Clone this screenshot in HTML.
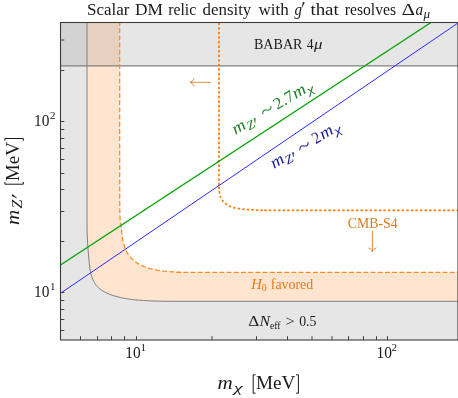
<!DOCTYPE html>
<html><head><meta charset="utf-8"><style>
html,body{margin:0;padding:0;background:#fff;}
svg{display:block;will-change:transform}
text{font-family:"Liberation Serif",serif;}
.i{font-style:italic}
</style></head><body>
<svg width="458" height="398" viewBox="0 0 458 398">
<rect width="458" height="398" fill="#fff"/>
<!-- fills -->
<path d="M60.50 22.50 L87.00 22.50 L87.01 221.63 L87.04 226.88 L87.16 233.99 L87.28 237.10 L88.06 249.31 L88.58 255.94 L88.94 259.99 L89.97 268.91 L90.38 271.40 L90.91 273.75 L91.73 276.50 L92.71 279.12 L93.86 281.69 L94.92 283.62 L95.80 284.92 L97.11 286.46 L98.55 287.83 L100.49 289.41 L102.15 290.54 L104.41 291.84 L106.95 293.12 L109.73 294.33 L112.11 295.21 L114.66 296.00 L117.98 296.88 L121.27 297.66 L124.57 298.33 L127.84 298.90 L130.87 299.34 L133.48 299.65 L138.61 300.13 L143.66 300.51 L147.53 300.75 L151.99 300.94 L162.56 301.23 L170.26 301.31 L458.00 301.30 L458.00 340.00 L60.50 340.00Z" fill="#808080" fill-opacity="0.2"/>
<path d="M87.00 22.50 L87.01 221.63 L87.04 226.88 L87.16 233.99 L87.28 237.10 L88.06 249.31 L88.58 255.94 L88.94 259.99 L89.97 268.91 L90.38 271.40 L90.91 273.75 L91.73 276.50 L92.71 279.12 L93.86 281.69 L94.92 283.62 L95.80 284.92 L97.11 286.46 L98.55 287.83 L100.49 289.41 L102.15 290.54 L104.41 291.84 L106.95 293.12 L109.73 294.33 L112.11 295.21 L114.66 296.00 L117.98 296.88 L121.27 297.66 L124.57 298.33 L127.84 298.90 L130.87 299.34 L133.48 299.65 L138.61 300.13 L143.66 300.51 L147.53 300.75 L151.99 300.94 L162.56 301.23 L170.26 301.31 L458.00 301.30 L458.00 272.40 L175.18 272.40 L182.53 272.33 L178.47 272.17 L175.35 271.99 L167.15 271.39 L163.63 271.05 L160.44 270.62 L157.12 270.08 L152.86 269.24 L150.15 268.62 L148.00 268.00 L146.34 267.43 L144.67 266.79 L142.51 265.87 L140.54 264.93 L138.73 263.99 L137.03 262.96 L135.79 262.10 L134.17 260.80 L132.28 259.07 L130.67 257.43 L129.30 255.85 L128.06 254.14 L126.89 252.24 L125.88 250.29 L125.25 248.78 L124.77 247.31 L123.54 242.96 L123.03 240.95 L122.60 238.88 L122.20 236.28 L121.80 232.90 L121.10 225.00 L120.93 223.97 L120.42 222.19 L120.23 220.78 L120.14 219.73 L120.00 216.70 L119.80 209.54 L119.72 193.44 L119.68 145.43 L119.70 22.50Z" fill="#ff7f0e" fill-opacity="0.2"/>
<rect x="60.5" y="22.5" width="397.5" height="43.3" fill="#808080" fill-opacity="0.2"/>
<!-- lines -->
<g stroke="#333" stroke-width="0.9"><line x1="80.50" y1="340.0" x2="80.50" y2="336.2"/><line x1="97.50" y1="340.0" x2="97.50" y2="336.2"/><line x1="111.50" y1="340.0" x2="111.50" y2="336.2"/><line x1="124.50" y1="340.0" x2="124.50" y2="336.2"/><line x1="136.50" y1="340.0" x2="136.50" y2="336.2"/><line x1="212.00" y1="340.0" x2="212.00" y2="336.2"/><line x1="256.50" y1="340.0" x2="256.50" y2="336.2"/><line x1="287.50" y1="340.0" x2="287.50" y2="336.2"/><line x1="312.00" y1="340.0" x2="312.00" y2="336.2"/><line x1="332.00" y1="340.0" x2="332.00" y2="336.2"/><line x1="348.50" y1="340.0" x2="348.50" y2="336.2"/><line x1="363.50" y1="340.0" x2="363.50" y2="336.2"/><line x1="376.50" y1="340.0" x2="376.50" y2="336.2"/><line x1="387.50" y1="340.0" x2="387.50" y2="336.2"/><line x1="60.5" y1="330.50" x2="64.3" y2="330.50"/><line x1="60.5" y1="319.50" x2="64.3" y2="319.50"/><line x1="60.5" y1="309.50" x2="64.3" y2="309.50"/><line x1="60.5" y1="300.50" x2="64.3" y2="300.50"/><line x1="60.5" y1="292.50" x2="64.3" y2="292.50"/><line x1="60.5" y1="241.50" x2="64.3" y2="241.50"/><line x1="60.5" y1="211.50" x2="64.3" y2="211.50"/><line x1="60.5" y1="189.50" x2="64.3" y2="189.50"/><line x1="60.5" y1="173.50" x2="64.3" y2="173.50"/><line x1="60.5" y1="159.50" x2="64.3" y2="159.50"/><line x1="60.5" y1="148.50" x2="64.3" y2="148.50"/><line x1="60.5" y1="138.50" x2="64.3" y2="138.50"/><line x1="60.5" y1="129.50" x2="64.3" y2="129.50"/><line x1="60.5" y1="121.50" x2="64.3" y2="121.50"/><line x1="60.5" y1="70.50" x2="64.3" y2="70.50"/><line x1="60.5" y1="40.00" x2="64.3" y2="40.00"/></g>
<line x1="60.5" y1="65.85" x2="458.0" y2="65.85" stroke="#808080" stroke-width="1.05"/>
<path d="M87.00 22.50 L87.01 221.63 L87.04 226.88 L87.16 233.99 L87.28 237.10 L88.06 249.31 L88.58 255.94 L88.94 259.99 L89.97 268.91 L90.38 271.40 L90.91 273.75 L91.73 276.50 L92.71 279.12 L93.86 281.69 L94.92 283.62 L95.80 284.92 L97.11 286.46 L98.55 287.83 L100.49 289.41 L102.15 290.54 L104.41 291.84 L106.95 293.12 L109.73 294.33 L112.11 295.21 L114.66 296.00 L117.98 296.88 L121.27 297.66 L124.57 298.33 L127.84 298.90 L130.87 299.34 L133.48 299.65 L138.61 300.13 L143.66 300.51 L147.53 300.75 L151.99 300.94 L162.56 301.23 L170.26 301.31 L458.00 301.30" fill="none" stroke="#808080" stroke-width="1.0"/>
<path d="M119.70 22.50 L119.68 145.43 L119.72 193.44 L119.80 209.54 L120.00 216.70 L120.14 219.73 L120.23 220.78 L120.42 222.19 L120.93 223.97 L121.10 225.00 L121.80 232.90 L122.20 236.28 L122.60 238.88 L123.03 240.95 L123.54 242.96 L124.77 247.31 L125.25 248.78 L125.88 250.29 L126.89 252.24 L128.06 254.14 L129.30 255.85 L130.67 257.43 L132.28 259.07 L134.17 260.80 L135.79 262.10 L137.03 262.96 L138.73 263.99 L140.54 264.93 L142.51 265.87 L144.67 266.79 L146.34 267.43 L148.00 268.00 L150.15 268.62 L152.86 269.24 L157.12 270.08 L160.44 270.62 L163.63 271.05 L167.15 271.39 L175.35 271.99 L178.47 272.17 L182.53 272.33 L175.18 272.40 L458.00 272.40" fill="none" stroke="#ff8a1c" stroke-width="1.25" stroke-dasharray="4.9 2.3" stroke-dashoffset="1.5"/>
<path d="M219.00 22.50 L218.99 185.36 L218.99 182.66 L219.10 187.90 L219.26 190.58 L219.42 192.49 L219.70 194.20 L219.95 195.18 L220.24 196.11 L220.59 197.00 L221.15 198.21 L221.84 199.45 L222.42 200.36 L223.07 201.23 L223.78 202.02 L224.54 202.74 L225.37 203.43 L226.60 204.30 L228.04 205.17 L229.62 205.99 L231.20 206.70 L232.35 207.13 L233.88 207.61 L235.80 208.10 L237.26 208.41 L239.12 208.72 L241.86 209.09 L246.30 209.55 L250.06 209.79 L257.88 210.14 L263.89 210.32 L261.19 210.38 L458.00 210.40" fill="none" stroke="#ff7f0e" stroke-width="1.75" stroke-dasharray="2.5 2.08" stroke-dashoffset="-0.05"/>
<line x1="60.5" y1="293.3" x2="458.0" y2="23.0" stroke="#2a2aff" stroke-width="1.0"/>
<line x1="60.5" y1="265.0" x2="431.0" y2="22.5" stroke="#05a305" stroke-width="1.45"/>
<!-- frame -->
<rect x="60.5" y="22.5" width="397.5" height="317.5" fill="none" stroke="#3c3c3c" stroke-width="1.1"/>
<text x="87.0" y="14.8" font-size="16.6" textLength="42.4" lengthAdjust="spacingAndGlyphs" fill="#1a1a1a">Scalar</text>
<text x="135.0" y="14.8" font-size="16.6" textLength="28.0" lengthAdjust="spacingAndGlyphs" fill="#1a1a1a">DM</text>
<text x="168.2" y="14.8" font-size="16.6" textLength="28.0" lengthAdjust="spacingAndGlyphs" fill="#1a1a1a">relic</text>
<text x="202.5" y="14.8" font-size="16.6" textLength="48.8" lengthAdjust="spacingAndGlyphs" fill="#1a1a1a">density</text>
<text x="258.5" y="14.8" font-size="16.6" textLength="30.4" lengthAdjust="spacingAndGlyphs" fill="#1a1a1a">with</text>
<text x="294.6" y="14.8" font-size="16.6" class="i" textLength="7.4" lengthAdjust="spacingAndGlyphs" fill="#1a1a1a">g</text>
<path d="M302.00 7.60 L303.01 2.00 L304.51 2.60 Z" fill="#1a1a1a" stroke="#1a1a1a" stroke-width="0.3"/>
<text x="310.4" y="14.8" font-size="16.6" textLength="28.4" lengthAdjust="spacingAndGlyphs" fill="#1a1a1a">that</text>
<text x="344.8" y="14.8" font-size="16.6" textLength="51.3" lengthAdjust="spacingAndGlyphs" fill="#1a1a1a">resolves</text>
<text x="401.8" y="14.8" font-size="16.6" textLength="13.2" lengthAdjust="spacingAndGlyphs" fill="#1a1a1a">Δ</text>
<text x="415.6" y="14.8" font-size="16.6" class="i" textLength="7.6" lengthAdjust="spacingAndGlyphs" fill="#1a1a1a">a</text>
<text x="423.6" y="18.0" font-size="11.5" class="i" textLength="6.6" lengthAdjust="spacingAndGlyphs" fill="#1a1a1a">μ</text>
<text x="125.3" y="358.1" font-size="16.4" textLength="15.4" lengthAdjust="spacingAndGlyphs" fill="#1a1a1a">10</text>
<text x="140.6" y="351.4" font-size="11" fill="#1a1a1a">1</text>
<text x="376.5" y="358.1" font-size="16.4" textLength="15.4" lengthAdjust="spacingAndGlyphs" fill="#1a1a1a">10</text>
<text x="391.6" y="351.4" font-size="11" fill="#1a1a1a">2</text>
<text x="34.1" y="125.9" font-size="16.4" textLength="15.4" lengthAdjust="spacingAndGlyphs" fill="#1a1a1a">10</text>
<text x="49.9" y="119.0" font-size="11" fill="#1a1a1a">2</text>
<text x="34.1" y="297.0" font-size="16.4" textLength="15.4" lengthAdjust="spacingAndGlyphs" fill="#1a1a1a">10</text>
<text x="49.9" y="290.1" font-size="11" fill="#1a1a1a">1</text>
<text x="217.6" y="388.8" font-size="19" class="i" textLength="15.2" lengthAdjust="spacingAndGlyphs" fill="#1a1a1a">m</text>
<text x="233.8" y="391.6" font-size="13" class="i" textLength="9.0" lengthAdjust="spacingAndGlyphs" fill="#1a1a1a">χ</text>
<path d="M255.50 374.80 H253.20 V393.20 H255.50 M296.10 374.80 H298.40 V393.20 H296.10" fill="none" stroke="#1a1a1a" stroke-width="1.0"/>
<text x="256.0" y="388.9" font-size="19" textLength="39.4" lengthAdjust="spacingAndGlyphs" fill="#1a1a1a">MeV</text>
<g transform="translate(18.9,225.3) rotate(-90)">
<text x="0.4" y="0.0" font-size="19" class="i" textLength="15.2" lengthAdjust="spacingAndGlyphs" fill="#1a1a1a">m</text>
<text x="16.9" y="2.9" font-size="14.2" class="i" textLength="8.8" lengthAdjust="spacingAndGlyphs" fill="#1a1a1a">Z</text>
<path d="M27.30 -2.00 L29.40 -7.00 L31.10 -6.40 Z" fill="#1a1a1a" stroke="#1a1a1a" stroke-width="0.3"/>
<path d="M43.40 -14.00 H41.10 V4.40 H43.40 M84.50 -14.00 H86.80 V4.40 H84.50" fill="none" stroke="#1a1a1a" stroke-width="1.0"/>
<text x="44.1" y="0.0" font-size="19" textLength="39.4" lengthAdjust="spacingAndGlyphs" fill="#1a1a1a">MeV</text>
</g>
<text x="254.0" y="49.2" font-size="13.6" textLength="48.4" lengthAdjust="spacingAndGlyphs" fill="#1a1a1a">BABAR</text>
<text x="306.8" y="49.2" font-size="13.6" textLength="6.8" lengthAdjust="spacingAndGlyphs" fill="#1a1a1a">4</text>
<text x="313.9" y="49.2" font-size="13.6" class="i" textLength="8.4" lengthAdjust="spacingAndGlyphs" fill="#1a1a1a">μ</text>
<text x="248.3" y="325.7" font-size="13.6" textLength="11.0" lengthAdjust="spacingAndGlyphs" fill="#1a1a1a">Δ</text>
<text x="259.6" y="325.7" font-size="13.6" class="i" textLength="10.6" lengthAdjust="spacingAndGlyphs" fill="#1a1a1a">N</text>
<text x="269.9" y="328.6" font-size="9.8" textLength="10.6" lengthAdjust="spacingAndGlyphs" fill="#1a1a1a">eff</text>
<text x="285.5" y="325.9" font-size="13.6" textLength="9.2" lengthAdjust="spacingAndGlyphs" fill="#1a1a1a">&gt;</text>
<text x="299.2" y="325.7" font-size="13.6" textLength="17.2" lengthAdjust="spacingAndGlyphs" fill="#1a1a1a">0.5</text>
<text x="251.2" y="288.6" font-size="13.6" class="i" textLength="10.6" lengthAdjust="spacingAndGlyphs" fill="#dd7a1c">H</text>
<text x="261.7" y="291.4" font-size="9.8" textLength="5.0" lengthAdjust="spacingAndGlyphs" fill="#dd7a1c">0</text>
<text x="270.8" y="288.6" font-size="13.6" textLength="42.4" lengthAdjust="spacingAndGlyphs" fill="#dd7a1c">favored</text>
<text x="347.8" y="228.2" font-size="14.0" textLength="49.8" lengthAdjust="spacingAndGlyphs" fill="#dd7a1c">CMB-S4</text>
<g fill="none" stroke="#dd7a1c" stroke-width="0.85" stroke-linecap="round"><path d="M372.4 231.3 V251.2 M368.8 248.0 Q371.6 249.0 372.4 251.5 Q373.2 249.0 376.0 248.0"/><path d="M210.5 82.3 H190.5 M194.0 78.7 Q192.8 81.5 190.2 82.3 Q192.8 83.1 194.0 85.9"/></g>
<g transform="translate(235.6,134.7) rotate(-30.6)">
<text x="0.0" y="0.0" font-size="16.6" class="i" textLength="13.4" lengthAdjust="spacingAndGlyphs" fill="#1e8226">m</text>
<text x="13.8" y="3.4" font-size="12.4" class="i" textLength="8.0" lengthAdjust="spacingAndGlyphs" fill="#1e8226">Z</text>
<path d="M22.80 -0.20 L23.90 -4.60 L25.40 -4.00 Z" fill="#1e8226" stroke="#1e8226" stroke-width="0.3"/>
<path transform="translate(0,0)" d="M33.9 -4.0 C35.5 -7.2 37.7 -6.9 39.4 -5.3 C41.1 -3.7 43.3 -3.3 44.9 -6.4" fill="none" stroke="#1e8226" stroke-width="1.0" stroke-linecap="round"/>
<text x="48.4" y="0.0" font-size="16.6" textLength="21.4" lengthAdjust="spacingAndGlyphs" fill="#1e8226">2.7</text>
<text x="70.0" y="0.0" font-size="16.6" class="i" textLength="13.4" lengthAdjust="spacingAndGlyphs" fill="#1e8226">m</text>
<text x="83.6" y="2.8" font-size="11.6" class="i" textLength="7.6" lengthAdjust="spacingAndGlyphs" fill="#1e8226">χ</text>
</g>
<g transform="translate(274.0,168.8) rotate(-30.6)">
<text x="0.0" y="0.0" font-size="16.6" class="i" textLength="13.4" lengthAdjust="spacingAndGlyphs" fill="#1a1a98">m</text>
<text x="13.8" y="3.4" font-size="12.4" class="i" textLength="8.0" lengthAdjust="spacingAndGlyphs" fill="#1a1a98">Z</text>
<path d="M22.80 -0.20 L23.90 -4.60 L25.40 -4.00 Z" fill="#1a1a98" stroke="#1a1a98" stroke-width="0.3"/>
<path transform="translate(-2.0,0.9)" d="M33.9 -4.0 C35.5 -7.2 37.7 -6.9 39.4 -5.3 C41.1 -3.7 43.3 -3.3 44.9 -6.4" fill="none" stroke="#1a1a98" stroke-width="1.0" stroke-linecap="round"/>
<text x="48.4" y="0.0" font-size="16.6" textLength="7.6" lengthAdjust="spacingAndGlyphs" fill="#1a1a98">2</text>
<text x="57.0" y="0.0" font-size="16.6" class="i" textLength="13.4" lengthAdjust="spacingAndGlyphs" fill="#1a1a98">m</text>
<text x="70.6" y="2.8" font-size="11.6" class="i" textLength="7.6" lengthAdjust="spacingAndGlyphs" fill="#1a1a98">χ</text>
</g>
</svg></body></html>
